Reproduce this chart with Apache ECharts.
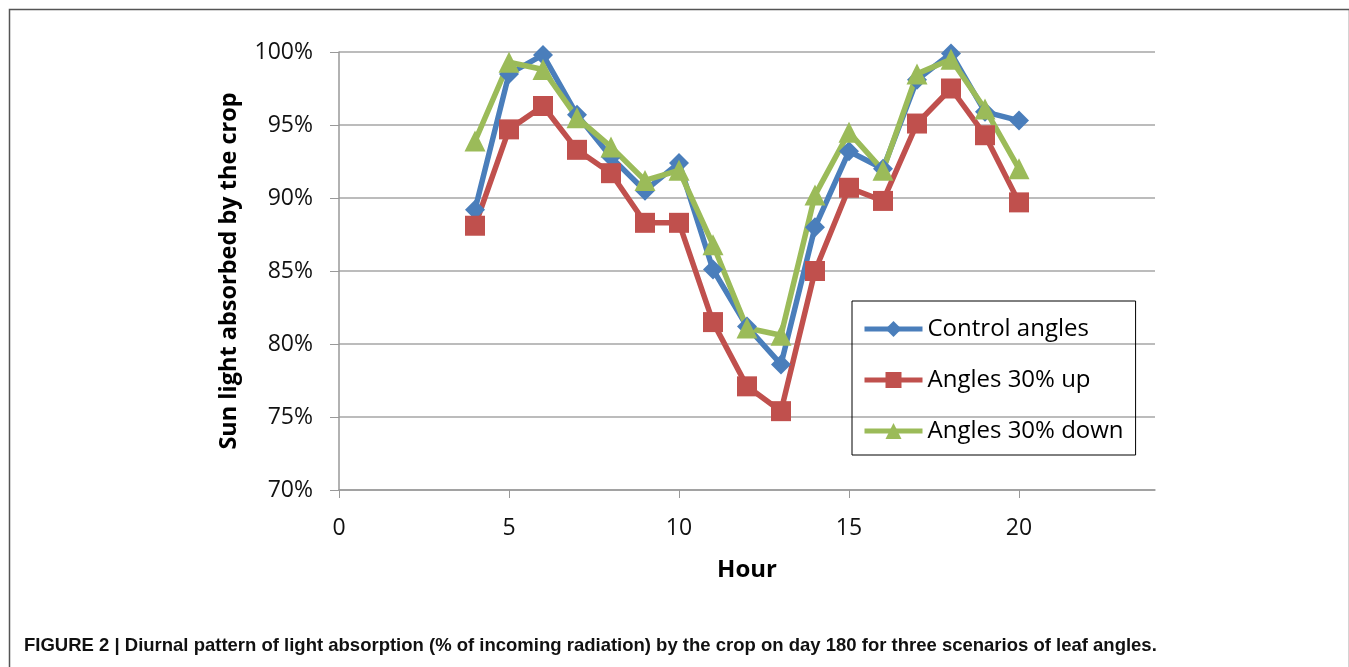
<!DOCTYPE html>
<html>
<head>
<meta charset="utf-8">
<script src="https://cdn.jsdelivr.net/npm/echarts@6/dist/echarts.min.js"></script>
<style>
  html, body { margin: 0; padding: 0; background: #fff; }
  #main { width: 1349px; height: 667px; }
</style>
</head>
<body>
<div id="main"></div>
<script>
  // 数据 (hour, % absorbed)
  var hours = [4, 5, 6, 7, 8, 9, 10, 11, 12, 13, 14, 15, 16, 17, 18, 19, 20]
  var controlAngles = [89.2, 98.5, 99.8, 95.7, 92.8, 90.5, 92.4, 85.1, 81.2, 78.6, 88.0, 93.2, 92.0, 98.1, 99.9, 95.9, 95.3]
  var angles30Up = [88.1, 94.7, 96.3, 93.3, 91.7, 88.3, 88.3, 81.5, 77.1, 75.4, 85.0, 90.7, 89.8, 95.1, 97.5, 94.3, 89.7]
  var angles30Down = [93.9, 99.3, 98.8, 95.5, 93.5, 91.2, 91.9, 86.8, 81.1, 80.6, 90.2, 94.5, 91.9, 98.5, 99.5, 96.1, 92.0]
  var seriesNames = ['Control angles', 'Angles 30% up', 'Angles 30% down']

  function pairs(vals) {
      return hours.map(function (h, i) { return [h, vals[i]] })
  }

  var myChart = echarts.init(document.getElementById('main'))

  var labelFont = 'Open Sans'

  var option = {
      animation: false,
      grid: { left: 339, top: 52, right: 194, bottom: 177 },
      legend: {
          orient: 'vertical',
          left: 852,
          top: 301,
          padding: [16, 12, 12, 10],
          borderColor: '#000',
          borderWidth: 1,
          itemWidth: 58,
          itemHeight: 20,
          itemGap: 27,
          data: seriesNames,
          lineStyle: { width: 5 },
          textStyle: { fontFamily: labelFont, fontSize: 24, color: '#000' }
      },
      xAxis: {
          type: 'value',
          min: 0,
          max: 24,
          interval: 5,
          name: 'Hour',
          nameLocation: 'middle',
          nameGap: 68,
          nameTextStyle: { fontFamily: labelFont, fontSize: 24, fontWeight: 'bold', color: '#000' },
          axisLine: { lineStyle: { color: '#999', width: 1.5 } },
          axisTick: { show: true, length: 8, lineStyle: { color: '#999' } },
          axisLabel: { fontFamily: labelFont, fontSize: 23, color: '#111', margin: 27, showMaxLabel: false },
          splitLine: { show: false }
      },
      yAxis: {
          type: 'value',
          min: 70,
          max: 100,
          interval: 5,
          name: 'Sun light absorbed by the crop',
          nameLocation: 'middle',
          nameRotate: 90,
          nameGap: 98,
          nameTextStyle: { fontFamily: labelFont, fontSize: 23.5, fontWeight: 'bold', color: '#000' },
          axisLine: { show: true, lineStyle: { color: '#999', width: 1.5 } },
          axisTick: { show: true, length: 9, lineStyle: { color: '#999' } },
          axisLabel: {
              fontFamily: labelFont, fontSize: 23, color: '#111', margin: 26,
              formatter: function (v) { return v + '%' }
          },
          splitLine: { lineStyle: { color: '#a6a6a6', width: 1.5 } }
      },
      series: [
          {
              name: seriesNames[0],
              type: 'line',
              data: pairs(controlAngles),
              symbol: 'diamond',
              symbolSize: 20,
              color: '#4a7ebb',
              lineStyle: { width: 5.5 },
              itemStyle: { color: '#4a7ebb' }
          },
          {
              name: seriesNames[1],
              type: 'line',
              data: pairs(angles30Up),
              symbol: 'rect',
              symbolSize: 20,
              color: '#c0504d',
              lineStyle: { width: 5.5 },
              itemStyle: { color: '#c0504d' }
          },
          {
              name: seriesNames[2],
              type: 'line',
              data: pairs(angles30Down),
              symbol: 'triangle',
              symbolSize: 21,
              color: '#9bbb59',
              lineStyle: { width: 5.5 },
              itemStyle: { color: '#9bbb59' }
          }
      ],
      graphic: [
          {
              type: 'rect',
              left: 7, top: 7,
              shape: { width: 1340, height: 700 },
              style: { fill: 'none', stroke: '#555', lineWidth: 1.5 },
              silent: true
          },
          {
              type: 'text',
              left: 24, top: 636,
              style: {
                  text: 'FIGURE 2 | Diurnal pattern of light absorption (% of incoming radiation) by the crop on day 180 for three scenarios of leaf angles.',
                  font: 'bold 18.5px "Liberation Sans", Arial, sans-serif',
                  fill: '#111'
              }
          }
      ]
  }

  myChart.setOption(option)
</script>
</body>
</html>
